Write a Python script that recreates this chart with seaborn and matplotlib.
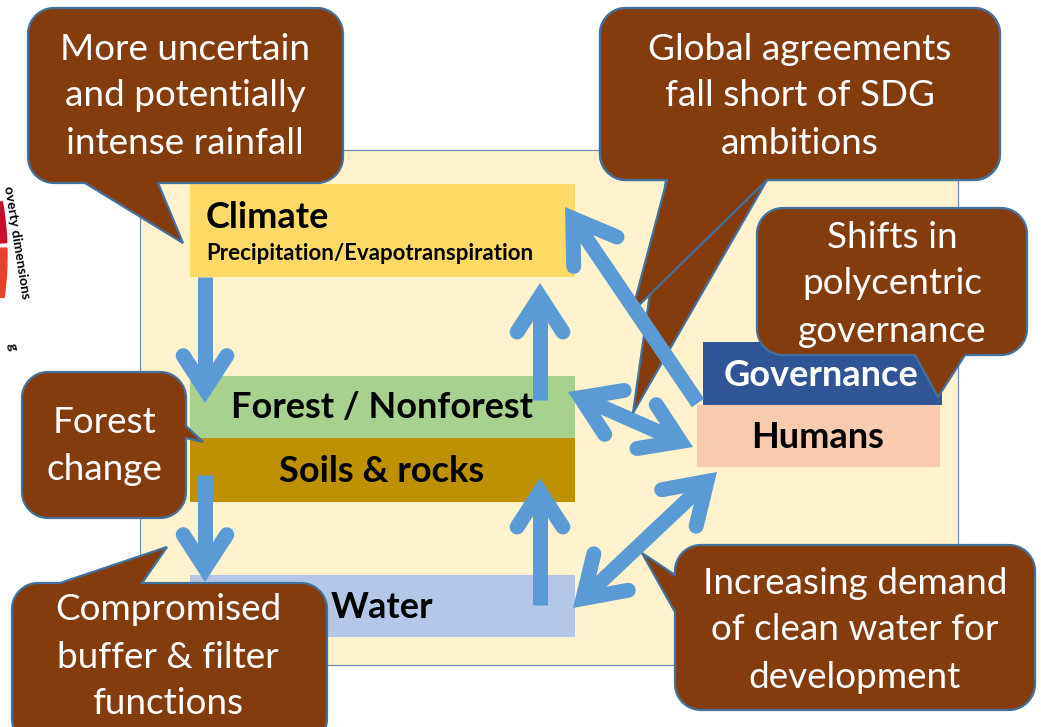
import numpy as np
import matplotlib
matplotlib.use("Agg")
import matplotlib.pyplot as plt
from matplotlib.patches import Polygon, Rectangle, Wedge
import seaborn as sns

# ---- content of the diagram ----
node_labels = ["Climate", "Forest / Nonforest", "Soils & rocks", "Water", "Governance", "Humans"]
climate_sub = "Precipitation/Evapotranspiration"
callout_texts = [
    "More uncertain\nand potentially\nintense rainfall",
    "Global agreements\nfall short of SDG\nambitions",
    "Shifts in\npolycentric\ngovernance",
    "Forest\nchange",
    "Compromised\nbuffer & filter\nfunctions",
    "Increasing demand\nof clean water for\ndevelopment",
]
fragment_text = "overty dimensions"

# ---- layout, in pixels (y grows downward) ----
node_boxes = [(190, 184, 575, 277), (190, 376, 575, 438), (190, 438, 575, 502),
              (190, 575, 575, 637), (703, 342, 942, 405), (697, 405, 940, 467)]
node_colors = ["#FFD966", "#A9D18E", "#BF9000", "#B4C7E7", "#2F5597", "#F8CBAD"]
node_text_pos = [(206, 217), (382, 408), (382, 471), (382, 607), (821, 375), (818, 437)]

callout_boxes = [(28, 8, 343, 183), (600, 8, 1000, 180), (757, 208, 1027, 355),
                 (22, 372, 186, 518), (12, 583, 327, 745), (675, 545, 1035, 710)]
callout_tails = [
    [("bottom", 85, 158, (183, 243))],
    [("bottom", 666, 767, (633, 413)), ("bottom", 667, 767, (632, 312))],
    [("bottom", 915, 965, (938, 397))],
    [("right", 426, 438, (203, 442))],
    [("top", 60, 142, (167, 547))],
    [("left", 575, 612, (642, 553))],
]
callout_text_pos = [(185, 96), (800, 96), (892, 284), (104, 446), (168, 657), (855, 630)]

arrows = [((205, 277), (205, 403), False), ((205, 475), (205, 582), False),
          ((540, 400), (540, 283), False), ((540, 605), (540, 478), False),
          ((568, 392), (693, 447), True), ((573, 608), (717, 472), True),
          ((698, 403), (565, 207), False)]
arm_len = [40, 40, 42, 42, 44, 46, 48]

BROWN = "#843C0C"
EDGE = "#41719C"
ARROW = "#5B9BD5"
CREAM = "#FFF2CC"

sns.set_theme(style="white")
plt.rcParams["font.family"] = ["Lato", "DejaVu Sans"]

fig = plt.figure(figsize=(10.41, 7.27), dpi=100)
ax = fig.add_axes([0, 0, 1, 1])
ax.set_xlim(0, 1041)
ax.set_ylim(727, 0)
ax.axis("off")


def rounded_outline(x0, y0, x1, y1, tails, r=26):
    pts = []

    def arc(cx, cy, a0, a1):
        for t in np.radians(np.linspace(a0, a1, 14)):
            pts.append((cx + r * np.cos(t), cy + r * np.sin(t)))

    def add_tail(side):
        for s, a, b, apex in tails:
            if s != side:
                continue
            if side == "top":
                pts.extend([(a, y0), apex, (b, y0)])
            elif side == "right":
                pts.extend([(x1, a), apex, (x1, b)])
            elif side == "bottom":
                pts.extend([(b, y1), apex, (a, y1)])
            else:
                pts.extend([(x0, b), apex, (x0, a)])

    arc(x0 + r, y0 + r, 180, 270)
    add_tail("top")
    arc(x1 - r, y0 + r, 270, 360)
    add_tail("right")
    arc(x1 - r, y1 - r, 0, 90)
    add_tail("bottom")
    arc(x0 + r, y1 - r, 90, 180)
    add_tail("left")
    return pts


def draw_arrow(p0, p1, double, L, half=33, lw=10.8, z=4):
    p0 = np.array(p0, float)
    p1 = np.array(p1, float)
    inset = 7.5 / np.sin(np.radians(half))
    ends = [(p1, p0)] + ([(p0, p1)] if double else [])
    u = (p1 - p0) / np.linalg.norm(p1 - p0)
    a = p0 + u * inset if double else p0
    b = p1 - u * inset
    ax.plot([a[0], b[0]], [a[1], b[1]], color=ARROW, lw=lw, solid_capstyle="butt", zorder=z)
    for tip, other in ends:
        d = (other - tip) / np.linalg.norm(other - tip)
        v = tip + d * inset
        arms = []
        for sgn in (1, -1):
            t = np.radians(sgn * half)
            rot = np.array([d[0] * np.cos(t) - d[1] * np.sin(t), d[0] * np.sin(t) + d[1] * np.cos(t)])
            arms.append(v + rot * L)
        ax.plot([arms[0][0], v[0], arms[1][0]], [arms[0][1], v[1], arms[1][1]], color=ARROW, lw=lw,
                solid_capstyle="round", solid_joinstyle="miter", zorder=z)


# fragment of a neighbouring figure at the left edge
ax.add_patch(Wedge((-300, 255), 307, -10, -2.3, width=20, color="#C8102E", zorder=1))
ax.add_patch(Wedge((-300, 255), 307, -1.3, 8, width=20, color="#E8412C", zorder=1))
ax.text(17, 242, fragment_text, rotation=-81, fontsize=10, fontweight="bold", color="black",
        ha="center", va="center", zorder=2)
ax.text(12, 347, "g", rotation=-81, fontsize=10, fontweight="bold", color="black",
        ha="center", va="center", zorder=2)

# cream background panel
ax.add_patch(Rectangle((140, 150), 818, 515, facecolor=CREAM, edgecolor="#6F8FBF", lw=0.9, zorder=1))

# boxes
for (x0, y0, x1, y1), c in zip(node_boxes, node_colors):
    ax.add_patch(Rectangle((x0, y0), x1 - x0, y1 - y0, facecolor=c, edgecolor="none", zorder=2))

for i, (lab, (tx, ty)) in enumerate(zip(node_labels, node_text_pos)):
    col = "white" if lab == "Governance" else "black"
    ax.text(tx, ty, lab, fontsize=26, fontweight="bold", color=col,
            ha="left" if i == 0 else "center", va="center", zorder=3)
ax.text(206, 254, climate_sub, fontsize=16, fontweight="bold", color="black",
        ha="left", va="center", zorder=3)

# arrows (the long Humans -> Climate arrow is drawn over the callouts)
for (p0, p1, dbl), L in zip(arrows[:-1], arm_len[:-1]):
    draw_arrow(p0, p1, dbl, L)

# callouts
for box, tails, txt, (cx, cy) in zip(callout_boxes, callout_tails, callout_texts, callout_text_pos):
    x0, y0, x1, y1 = box
    for tail in tails:
        pts = rounded_outline(x0, y0, x1, y1, [tail])
        ax.add_patch(Polygon(pts, closed=True, facecolor=BROWN, edgecolor=EDGE, lw=1.6,
                             joinstyle="miter", zorder=5))
    lines = txt.split("\n")
    for k, line in enumerate(lines):
        ax.text(cx, cy + (k - (len(lines) - 1) / 2) * 47, line, fontsize=26.6, color="white",
                ha="center", va="center", zorder=6)

p0, p1, dbl = arrows[-1]
draw_arrow(p0, p1, dbl, arm_len[-1], z=7)

fig.savefig("out.png", dpi=100)
